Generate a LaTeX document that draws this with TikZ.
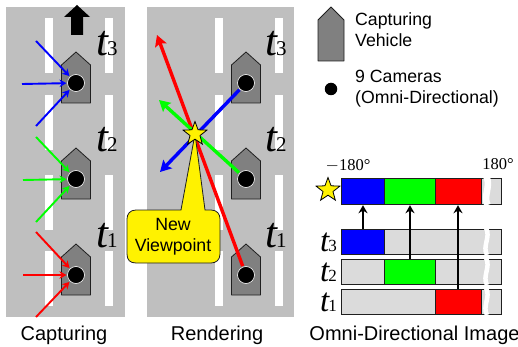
\documentclass[tikz,border=0pt]{standalone}
\usepackage{fontspec}
\setmainfont{Liberation Sans}
\newfontfamily\serifface{Liberation Serif}
\usetikzlibrary{shapes.geometric,arrows.meta}
\definecolor{road}{gray}{0.75}
\definecolor{veh}{gray}{0.5}
\definecolor{barg}{gray}{0.86}
\definecolor{edgec}{gray}{0.12}
\tikzset{
 x=1pt,y=-1pt,
 roadbg/.style={fill=road,draw=none},
 lanemark/.style={fill=white,draw=none},
 vehshape/.style={fill=veh,draw=edgec,line width=0.8pt,line join=round},
 cam/.style={circle,fill=black,draw=white,line width=0.6pt,minimum size=17pt,inner sep=0pt,outer sep=1pt},
 inarrow/.style={line width=1.9pt,-{Stealth[length=7pt,width=7.5pt]}},
 outarrow/.style={line width=3.4pt,-{Stealth[length=11pt,width=12pt,inset=2pt]}},
 starn/.style={star,star points=5,star point ratio=2.4,fill=yellow,draw=black,line width=0.8pt,minimum size=25pt,inner sep=0pt},
 timelab/.style={inner sep=0pt,anchor=base west},
 captxt/.style={inner sep=0pt,font=\fontsize{20}{22}\selectfont},
 legendtxt/.style={inner sep=0pt,anchor=base west,font=\fontsize{17.7}{20}\selectfont},
 barseg/.style={draw=edgec,line width=0.9pt},
 mergearrow/.style={line width=2.8pt,-{Stealth[length=8pt,width=9pt]}},
 deg/.style={inner sep=0pt,font=\serifface\fontsize{16.5}{18}\selectfont},
 breakline/.style={draw=white,line width=4.5pt},
}
\newcommand{\vehicle}[2]{\draw[vehshape] (#1-14.5,#2+51) -- (#1-14.5,#2+13) -- (#1,#2) -- (#1+14.5,#2+13) -- (#1+14.5,#2+51) -- cycle;}
\newcommand{\tlab}[4]{\node[timelab] (#3) at (#1,#2) {\serifface\fontsize{43}{43}\selectfont\itshape t\fontsize{21}{21}\selectfont\upshape\kern-1pt #4};}
\newcommand{\tlabsm}[4]{\node[timelab] (#3) at (#1,#2) {\serifface\fontsize{33}{33}\selectfont\itshape t\fontsize{17}{17}\selectfont\upshape\kern-1pt #4};}
\begin{document}
\begin{tikzpicture}
\useasboundingbox (0,0) rectangle (518,347);
% roads
\fill[roadbg] (6,7) rectangle (125,317);
\fill[roadbg] (147,7) rectangle (294,317);
\foreach \x in {45,105,215,275}{
  \foreach \a/\b in {18/73,95/150,175/230,251/306}{
    \fill[lanemark] (\x,\a) rectangle (\x+8,\b);
  }
}
% travel direction
\fill[black] (71,35) -- (71,17) -- (64,17) -- (77,5) -- (90,17) -- (83,17) -- (83,35) -- cycle;
% vehicles
\foreach \x in {76,246}{ \foreach \y in {52,148,244}{ \vehicle{\x}{\y} } }
\node[cam] (c3) at (76,83) {};
\node[cam] (c2) at (76,179) {};
\node[cam] (c1) at (76,275) {};
\node[cam] (r3) at (246,83) {};
\node[cam] (r2) at (246,179) {};
\node[cam] (r1) at (246,275) {};
% capturing rays
\coordinate (b1) at (36,41); \coordinate (b2) at (22,84); \coordinate (b3) at (36,126);
\coordinate (g1) at (36,137); \coordinate (g2) at (23,180); \coordinate (g3) at (36,222);
\coordinate (e1) at (36,232); \coordinate (e2) at (23,275); \coordinate (e3) at (36,317);
\foreach \s in {b1,b2,b3} \draw[inarrow,blue] (\s) -- (c3);
\foreach \s in {g1,g2,g3} \draw[inarrow,green] (\s) -- (c2);
\foreach \s in {e1,e2,e3} \draw[inarrow,red] (\s) -- (c1);
% rendering rays
\coordinate (redend) at (157,35);
\coordinate (greenend) at (159,100);
\coordinate (blueend) at (160,172);
\draw[outarrow,red] (r1) -- (redend);
\draw[outarrow,green] (r2) -- (greenend);
\draw[outarrow,blue] (r3) -- (blueend);
% callout
\draw[fill=yellow,draw=edgec,line width=0.8pt,rounded corners=0pt]
  (195,134) -- (205,210) -- (211,210) .. controls (217,210) and (220,214) .. (220,219)
  -- (220,254) .. controls (220,260) and (216,263) .. (211,263)
  -- (136,263) .. controls (130,263) and (127,260) .. (127,254)
  -- (127,219) .. controls (127,214) and (130,210) .. (136,210) -- (181,210) -- cycle;
\node[inner sep=0pt,align=center,font=\fontsize{17.7}{21}\selectfont] (nv) at (173,237) {New\\Viewpoint};
\node[starn] (vp) at (195,134) {};
% time labels
\tlab{96}{56}{tA}{3}
\tlab{96}{152}{tB}{2}
\tlab{96}{247}{tC}{1}
\tlab{265}{56}{tD}{3}
\tlab{265}{152}{tE}{2}
\tlab{265}{247}{tF}{1}
% captions
\node[captxt] (capa) at (64,335) {Capturing};
\node[captxt] (capb) at (217,335) {Rendering};
\node[captxt] (capc) at (414.5,335) {Omni-Directional Image};
% legend
\draw[vehshape] (318,61) -- (318,20) -- (331,7) -- (344,20) -- (344,61) -- cycle;
\node[circle,fill=black,minimum size=12.5pt,inner sep=0pt] (legcam) at (331,89) {};
\node[legendtxt] (l1) at (355,26) {Capturing};
\node[legendtxt] (l2) at (355,47) {Vehicle};
\node[legendtxt] (l3) at (355,83) {9 Cameras};
\node[legendtxt] (l4) at (355,104) {(Omni-Directional)};
% image strips
\foreach \a/\b in {178/204,229/254,259/284,289/314}{
  \draw[barseg,fill=barg] (341,\a) rectangle (501,\b);
}
\draw[barseg,fill=blue] (341,178) rectangle (384,204);
\draw[barseg,fill=green] (384,178) rectangle (435,204);
\draw[barseg,fill=red] (435,178) rectangle (481,204);
\node[inner sep=0pt,minimum size=0pt] (top1) at (363,205) {};
\node[inner sep=0pt,minimum size=0pt] (top2) at (410,205) {};
\node[inner sep=0pt,minimum size=0pt] (top3) at (458,205) {};
\draw[barseg,fill=blue] (341,229) rectangle (384,254);
\draw[barseg,fill=green] (384,259) rectangle (435,284);
\draw[barseg,fill=red] (435,289) rectangle (481,314);
\node[inner sep=0pt,minimum size=0pt] (src3) at (363,229) {};
\node[inner sep=0pt,minimum size=0pt] (src2) at (410,259) {};
\node[inner sep=0pt,minimum size=0pt] (src1) at (458,289) {};
\draw[mergearrow] (src3) -- (top1);
\draw[mergearrow] (src2) -- (top2);
\draw[mergearrow] (src1) -- (top3);
% break
\foreach \a/\b in {229/254,259/284,289/314}{
  \draw[breakline] (486,\a-1) .. controls (491,\a+8) and (482,\b-8) .. (487,\b+1);
}
\draw[breakline,line width=6.5pt] (486.5,177) .. controls (491,186) and (483,196) .. (487.5,205);
\node[starn] (lstar) at (328,190) {};
\node[deg,anchor=base] (d1) at (348,171) {\(-\)180°};
\node[deg,anchor=base] (d2) at (498,170) {180°};
\tlabsm{320}{251}{tG}{3}
\tlabsm{320}{281}{tH}{2}
\tlabsm{320}{311}{tI}{1}
\end{tikzpicture}
\end{document}
